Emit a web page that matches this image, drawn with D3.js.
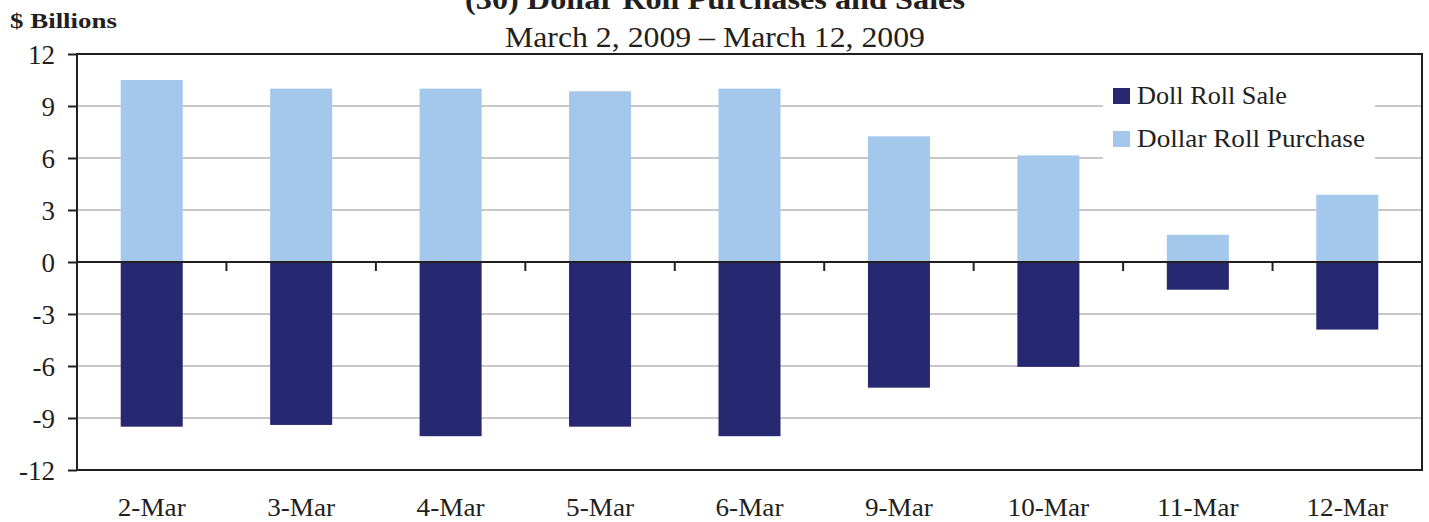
<!DOCTYPE html>
<html>
<head>
<meta charset="utf-8">
<script src="https://cdn.jsdelivr.net/npm/d3@7"></script>
<style>
  body { margin: 0; background: #fff; }
  svg text { font-family: "Liberation Serif", "Times New Roman", serif; fill: #231f20; }
</style>
</head>
<body>
<div id="chart"></div>
<script>
// Chart data ($ billions)
const dates = ["2-Mar", "3-Mar", "4-Mar", "5-Mar", "6-Mar", "9-Mar", "10-Mar", "11-Mar", "12-Mar"];
const purchase = [10.5, 10.0, 10.0, 9.85, 10.0, 7.25, 6.15, 1.57, 3.88];
const sale = [-9.5, -9.4, -10.05, -9.5, -10.05, -7.25, -6.05, -1.6, -3.9];
const yTicks = [12, 9, 6, 3, 0, -3, -6, -9, -12];

const W = 1429, H = 522;
const margin = { top: 54, right: 7, bottom: 52, left: 77 };
const width = W - margin.left - margin.right;
const height = H - margin.top - margin.bottom;

const svg = d3.select('#chart')
    .append('svg')
    .attr('width', W)
    .attr('height', H);

const g = svg.append('g')
    .attr('transform', `translate(${margin.left},${margin.top})`);

const x = d3.scaleBand()
    .domain(dates)
    .range([0, width])
    .paddingInner(0.585)
    .paddingOuter(0.2925);

const xOuter = d3.scaleBand().domain(dates).range([0, width]);

const y = d3.scaleLinear()
    .domain([-12, 12])
    .range([height, 0]);

// gridlines
g.append('g')
    .selectAll('line')
    .data(yTicks.filter(d => d !== 0 && Math.abs(d) !== 12))
    .join('line')
    .attr('x1', 0)
    .attr('x2', width)
    .attr('y1', d => y(d))
    .attr('y2', d => y(d))
    .attr('stroke', '#c8c8c8')
    .attr('stroke-width', 2);

// bars
g.append('g')
    .selectAll('rect')
    .data(dates.map((d, i) => ({ date: d, v: purchase[i] })))
    .join('rect')
    .attr('x', d => x(d.date))
    .attr('width', x.bandwidth())
    .attr('y', d => y(d.v))
    .attr('height', d => y(0) - y(d.v))
    .attr('fill', '#a3c8eb');

g.append('g')
    .selectAll('rect')
    .data(dates.map((d, i) => ({ date: d, v: sale[i] })))
    .join('rect')
    .attr('x', d => x(d.date))
    .attr('width', x.bandwidth())
    .attr('y', y(0))
    .attr('height', d => y(d.v) - y(0))
    .attr('fill', '#262872');

// legend with white background
const legend = g.append('g')
    .attr('transform', `translate(${width - 319},${20})`);

legend.append('rect')
    .attr('x', 0)
    .attr('y', 0)
    .attr('width', 272)
    .attr('height', 95)
    .attr('fill', '#fff');

const legendItems = [
    { label: 'Doll Roll Sale', color: '#262872', len: 150 },
    { label: 'Dollar Roll Purchase', color: '#a3c8eb', len: 228 }
];

legendItems.forEach((item, i) => {
    legend.append('rect')
        .attr('x', 10)
        .attr('y', 14 + i * 43)
        .attr('width', 17)
        .attr('height', 16)
        .attr('fill', item.color);
    legend.append('text')
        .attr('x', 34)
        .attr('y', 30 + i * 43)
        .attr('font-size', 25)
        .attr('textLength', item.len)
        .attr('lengthAdjust', 'spacingAndGlyphs')
        .text(item.label);
});

// plot frame
g.append('rect')
    .attr('x', 0)
    .attr('y', 0)
    .attr('width', width)
    .attr('height', height)
    .attr('fill', 'none')
    .attr('stroke', '#231f20')
    .attr('stroke-width', 2);

// zero line + category ticks
g.append('line')
    .attr('x1', 0)
    .attr('x2', width)
    .attr('y1', y(0))
    .attr('y2', y(0))
    .attr('stroke', '#231f20')
    .attr('stroke-width', 2);

g.append('g')
    .selectAll('line')
    .data(dates.slice(1))
    .join('line')
    .attr('x1', d => xOuter(d))
    .attr('x2', d => xOuter(d))
    .attr('y1', y(0))
    .attr('y2', y(0) + 9)
    .attr('stroke', '#231f20')
    .attr('stroke-width', 2);

// y axis
const yAxis = g.append('g')
    .call(d3.axisLeft(y)
        .tickValues(yTicks)
        .tickSize(9)
        .tickPadding(13)
        .tickFormat(d => String(d))
        .tickSizeOuter(0));
yAxis.select('.domain').remove();
yAxis.selectAll('line').attr('stroke', '#231f20').attr('stroke-width', 2);
yAxis.selectAll('text')
    .attr('font-size', 27)
    .attr('font-family', '"Liberation Serif", serif')
    .attr('fill', '#231f20')
    .attr('dy', '0.35em');

// x axis labels
const xAxis = g.append('g')
    .attr('transform', `translate(0,${height})`)
    .call(d3.axisBottom(xOuter).tickSize(0).tickPadding(28));
xAxis.select('.domain').remove();
xAxis.selectAll('text')
    .attr('font-size', 25)
    .attr('font-family', '"Liberation Serif", serif')
    .attr('fill', '#231f20')
    .attr('textLength', d => d.length * 13.6)
    .attr('lengthAdjust', 'spacingAndGlyphs');

// titles
svg.append('text')
    .attr('x', 715)
    .attr('y', 9)
    .attr('text-anchor', 'middle')
    .attr('font-size', 30)
    .attr('font-weight', 'bold')
    .attr('textLength', 500)
    .attr('lengthAdjust', 'spacingAndGlyphs')
    .text('(30) Dollar Roll Purchases and Sales');

svg.append('text')
    .attr('x', 715)
    .attr('y', 47)
    .attr('text-anchor', 'middle')
    .attr('font-size', 29)
    .attr('textLength', 420)
    .attr('lengthAdjust', 'spacingAndGlyphs')
    .text('March 2, 2009 – March 12, 2009');

svg.append('text')
    .attr('x', 10)
    .attr('y', 28)
    .attr('font-size', 20)
    .attr('font-weight', 'bold')
    .attr('textLength', 107)
    .attr('lengthAdjust', 'spacingAndGlyphs')
    .text('$ Billions');
</script>
</body>
</html>
